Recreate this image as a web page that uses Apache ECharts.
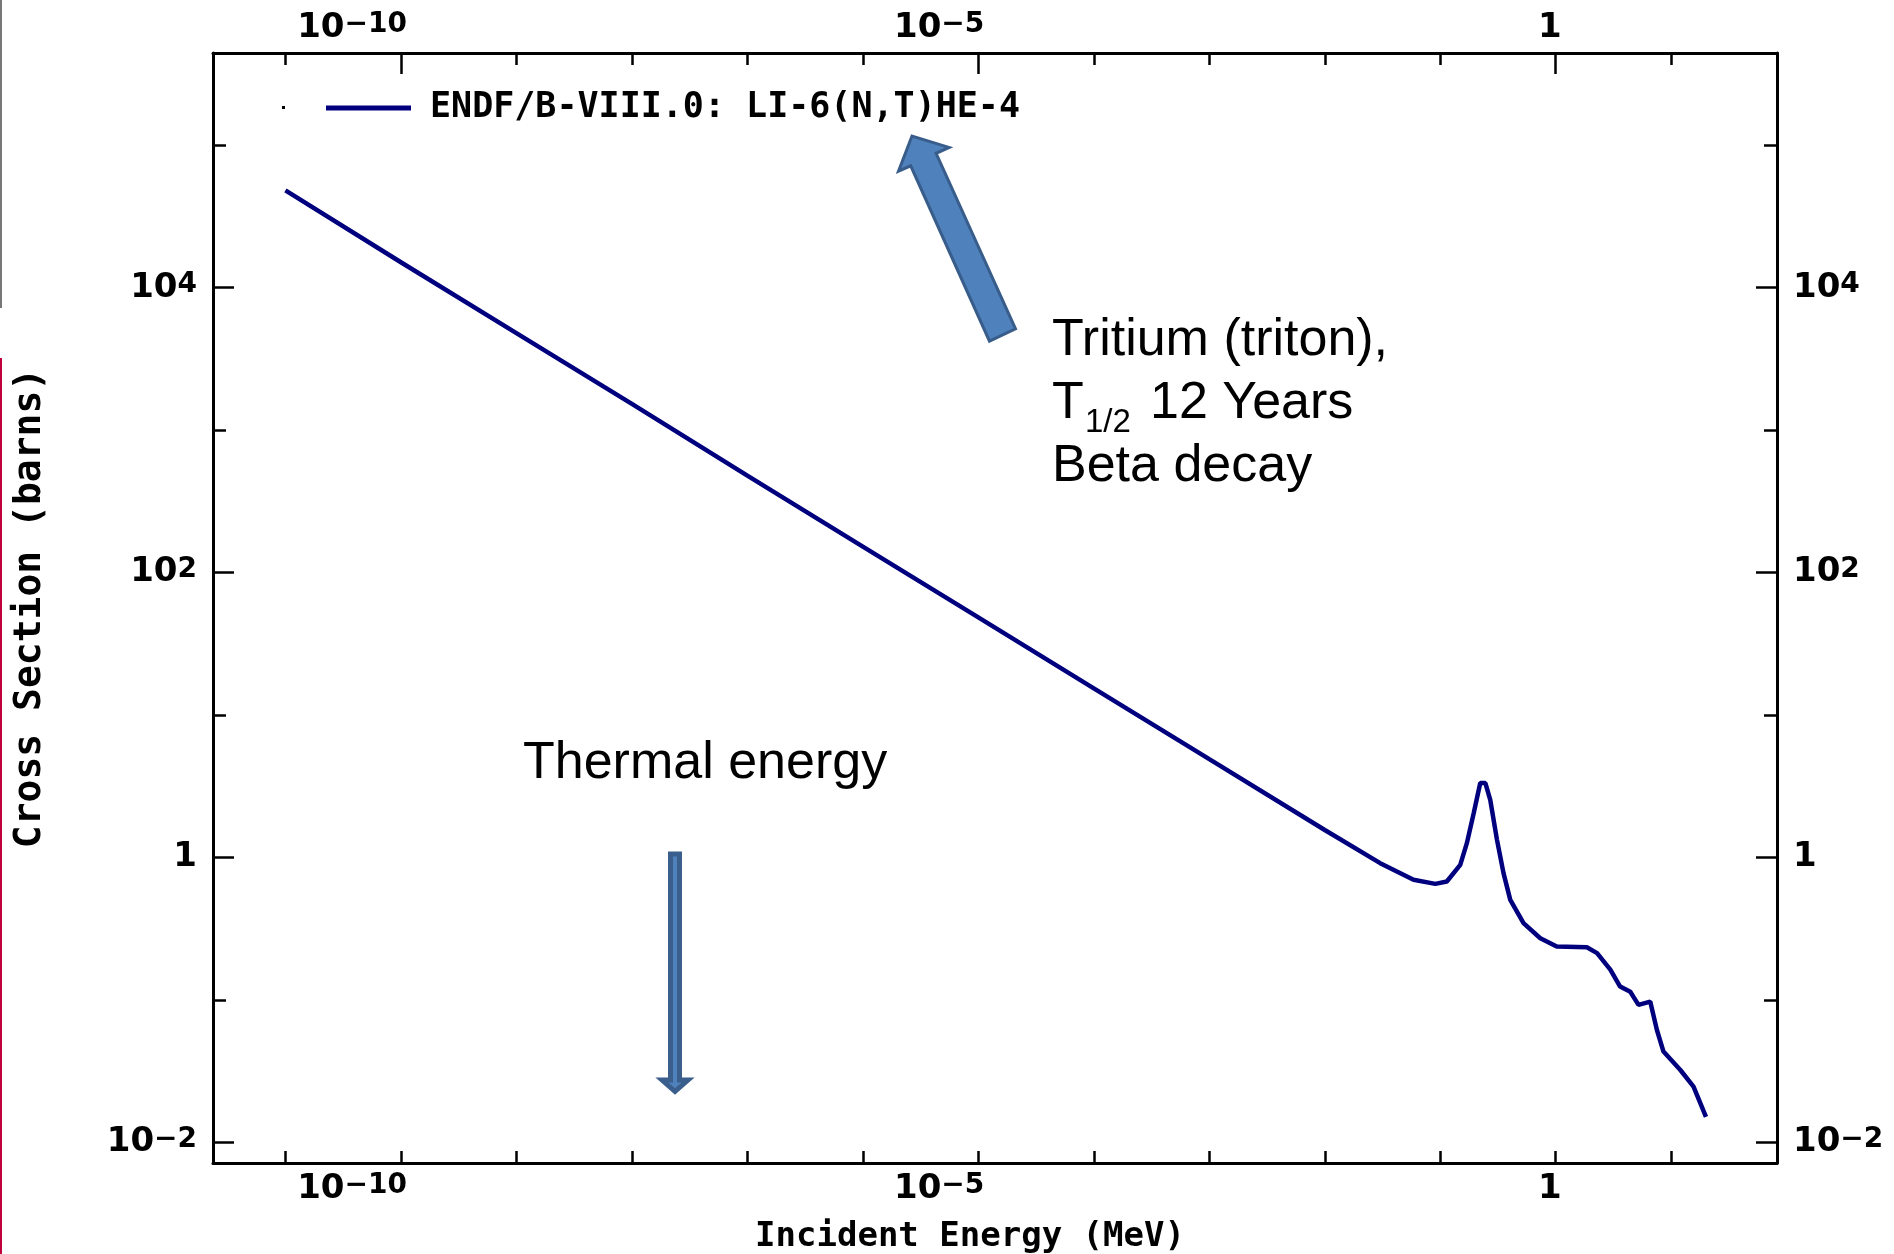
<!DOCTYPE html>
<html><head><meta charset="utf-8">
<script src="https://cdn.jsdelivr.net/npm/echarts@6/dist/echarts.min.js"></script>
<style>html,body{margin:0;padding:0;background:#fff}#c{width:1894px;height:1254px}</style>
</head><body><div id="c"></div><script>
// ---- data ----
const seriesName = 'ENDF/B-VIII.0: LI-6(N,T)HE-4';
const energyMeV = [1.0e-11, 1.0e-10, 1.0e-9, 1.0e-8, 1.0e-7, 1.0e-6, 1.0e-5, 1.0e-4, 1.0e-3, 1.0e-2,
  0.0302, 0.0587, 0.0906, 0.114, 0.149, 0.170, 0.195,
  0.222, 0.246, 0.271, 0.310, 0.353, 0.404, 0.526, 0.735, 1.02, 1.86,
  2.28, 2.97, 3.61, 4.42, 5.21, 6.58, 7.52, 8.57, 12.0, 15.6, 20.0];
const crossSectionBarns = [48200, 15100, 4800, 1530, 480, 152, 48.5, 15.4, 4.9, 1.56,
  0.912, 0.697, 0.653, 0.678, 0.887, 1.26, 2.05,
  3.33, 3.33, 2.54, 1.33, 0.776, 0.504, 0.346, 0.271, 0.237, 0.234,
  0.213, 0.163, 0.124, 0.114, 0.0923, 0.0973, 0.0615, 0.0434, 0.0322, 0.0246, 0.0151];
const xTickDecades = [-11, -10, -9, -8, -7, -6, -5, -4, -3, -2, -1, 0, 1];
const xLabelDecades = [-10, -5, 0];
const yMajorDecades = [-2, 0, 2, 4];
const yMinorDecades = [-1, 1, 3, 5];
const xRangeLog = [-11.627, 1.916];
const yRangeLog = [-2.145, 5.648];
const xTitle = 'Incident Energy (MeV)';
const yTitle = 'Cross Section (barns)';

// ---- chart ----
const MONO = 'DejaVu Sans Mono';
const TICKF = 'DejaVu Sans';
const lineData = energyMeV.map((e, i) => [Math.log10(e), Math.log10(crossSectionBarns[i])]);
const fmtPow = v => {
  const n = Math.round(v);
  if (n === 0) return '{b|1}';
  return '{b|10}{s|' + (n < 0 ? '\u2212' : '') + Math.abs(n) + '}';
};
const rich = {
  b: {fontSize: 34, lineHeight: 34, fontWeight: 'bold', fontFamily: TICKF, color: '#000'},
  s: {fontSize: 28, lineHeight: 28, verticalAlign: 'top', fontWeight: 'bold', fontFamily: TICKF, color: '#000'}
};
const axLine = {show: true, onZero: false, lineStyle: {color: '#000', width: 3}};
const noLine = {show: false, onZero: false};
const tickStyle = {color: '#000', width: 2.5};

const xBase = {type: 'value', min: xRangeLog[0], max: xRangeLog[1], splitLine: {show: false}, gridIndex: 0};
const yBase = {type: 'value', min: yRangeLog[0], max: yRangeLog[1], splitLine: {show: false}, gridIndex: 0};

const chart = echarts.init(document.getElementById('c'), null, {renderer: 'canvas'});
chart.setOption({
  backgroundColor: '#fff',
  animation: false,
  grid: {left: 213, right: 117, top: 53, bottom: 91, containLabel: false, outerBoundsMode: 'none'},
  legend: {
    data: [seriesName], left: 326, top: 90, padding: 0,
    itemWidth: 85, itemHeight: 5, icon: 'rect',
    textStyle: {fontFamily: MONO, fontWeight: 'bold', fontSize: 35, lineHeight: 36, color: '#000', padding: [0, 0, 0, 14]}
  },
  xAxis: [
    Object.assign({}, xBase, {
      position: 'bottom', axisLine: axLine,
      axisTick: {show: true, inside: true, length: 12, customValues: xTickDecades, lineStyle: tickStyle},
      axisLabel: {show: true, customValues: xLabelDecades, formatter: fmtPow, rich: rich, margin: 9, align: 'right', padding: [0, -6, 0, 0]},
      name: xTitle, nameLocation: 'middle', nameGap: 57,
      nameTextStyle: {fontFamily: MONO, fontWeight: 'bold', fontSize: 34, lineHeight: 34, color: '#000', padding: [0, 50, 0, 0]}
    }),
    Object.assign({}, xBase, {
      position: 'top', axisLine: axLine,
      axisTick: {show: true, inside: true, length: 12, customValues: xTickDecades, lineStyle: tickStyle},
      axisLabel: {show: true, customValues: xLabelDecades, formatter: fmtPow, rich: rich, margin: 8, align: 'right', padding: [0, -6, 0, 0]}
    }),
    Object.assign({}, xBase, {
      position: 'top', axisLine: noLine,
      axisTick: {show: true, inside: true, length: 21, customValues: xLabelDecades, lineStyle: tickStyle},
      axisLabel: {show: false}
    })
  ],
  yAxis: [
    Object.assign({}, yBase, {
      position: 'left', axisLine: axLine,
      axisTick: {show: true, inside: true, length: 21, customValues: yMajorDecades, lineStyle: tickStyle},
      axisLabel: {show: true, customValues: yMajorDecades, formatter: fmtPow, rich: rich, margin: 16},
      name: yTitle, nameLocation: 'middle', nameGap: 164,
      nameTextStyle: {fontFamily: MONO, fontWeight: 'bold', fontSize: 38, lineHeight: 38, color: '#000'}
    }),
    Object.assign({}, yBase, {
      position: 'left', axisLine: noLine,
      axisTick: {show: true, inside: true, length: 13, customValues: yMinorDecades, lineStyle: tickStyle},
      axisLabel: {show: false}
    }),
    Object.assign({}, yBase, {
      position: 'right', axisLine: axLine,
      axisTick: {show: true, inside: true, length: 21, customValues: yMajorDecades, lineStyle: tickStyle},
      axisLabel: {show: true, customValues: yMajorDecades, formatter: fmtPow, rich: rich, margin: 16}
    }),
    Object.assign({}, yBase, {
      position: 'right', axisLine: noLine,
      axisTick: {show: true, inside: true, length: 13, customValues: yMinorDecades, lineStyle: tickStyle},
      axisLabel: {show: false}
    })
  ],
  series: [{
    name: seriesName, type: 'line', xAxisIndex: 0, yAxisIndex: 0,
    data: lineData, showSymbol: false, symbol: 'none', smooth: false,
    lineStyle: {color: '#00007f', width: 4.5}, itemStyle: {color: '#00007f'}
  }],
  graphic: [
    {type: 'line', silent: true, shape: {x1: 1, y1: 0, x2: 1, y2: 308}, style: {stroke: '#777', lineWidth: 2}},
    {type: 'line', silent: true, shape: {x1: 1, y1: 358, x2: 1, y2: 1254}, style: {stroke: '#c0003c', lineWidth: 2}},
    {type: 'rect', silent: true, shape: {x: 282, y: 106, width: 3, height: 3}, style: {fill: '#000'}},
    {type: 'polygon', silent: true, shape: {points: [[670.5, 854], [679.5, 854], [679.5, 1080], [688, 1080], [675, 1091.5], [662, 1080], [670.5, 1080]]},
      style: {fill: '#4f81bd', stroke: '#3b5f8c', lineWidth: 5, lineJoin: 'miter'}},
    {type: 'polygon', silent: true, shape: {points: [[989.5, 341.2], [1015.5, 328.8], [936.1, 153.3], [949.1, 147.4], [912, 136], [898.5, 171.2], [910.7, 165.8]]},
      style: {fill: '#4f81bd', stroke: '#385d8a', lineWidth: 3, lineJoin: 'miter'}},
    {type: 'text', silent: true, x: 523, y: 764, style: {text: 'Thermal energy', fontSize: 52, fontFamily: 'Liberation Sans', fill: '#000', align: 'left', verticalAlign: 'middle'}},
    {type: 'text', silent: true, x: 1052, y: 340.5, style: {text: 'Tritium (triton),', fontSize: 52, fontFamily: 'Liberation Sans', fill: '#000', align: 'left', verticalAlign: 'middle'}},
    {type: 'text', silent: true, x: 1052, y: 404, style: {text: 'T', fontSize: 52, fontFamily: 'Liberation Sans', fill: '#000', align: 'left', verticalAlign: 'middle'}},
    {type: 'text', silent: true, x: 1085, y: 423, style: {text: '1/2', fontSize: 33, fontFamily: 'Liberation Sans', fill: '#000', align: 'left', verticalAlign: 'middle'}},
    {type: 'text', silent: true, x: 1150, y: 404, style: {text: '12 Years', fontSize: 52, fontFamily: 'Liberation Sans', fill: '#000', align: 'left', verticalAlign: 'middle'}},
    {type: 'text', silent: true, x: 1052, y: 466.5, style: {text: 'Beta decay', fontSize: 52, fontFamily: 'Liberation Sans', fill: '#000', align: 'left', verticalAlign: 'middle'}}
  ]
});
</script></body></html>
